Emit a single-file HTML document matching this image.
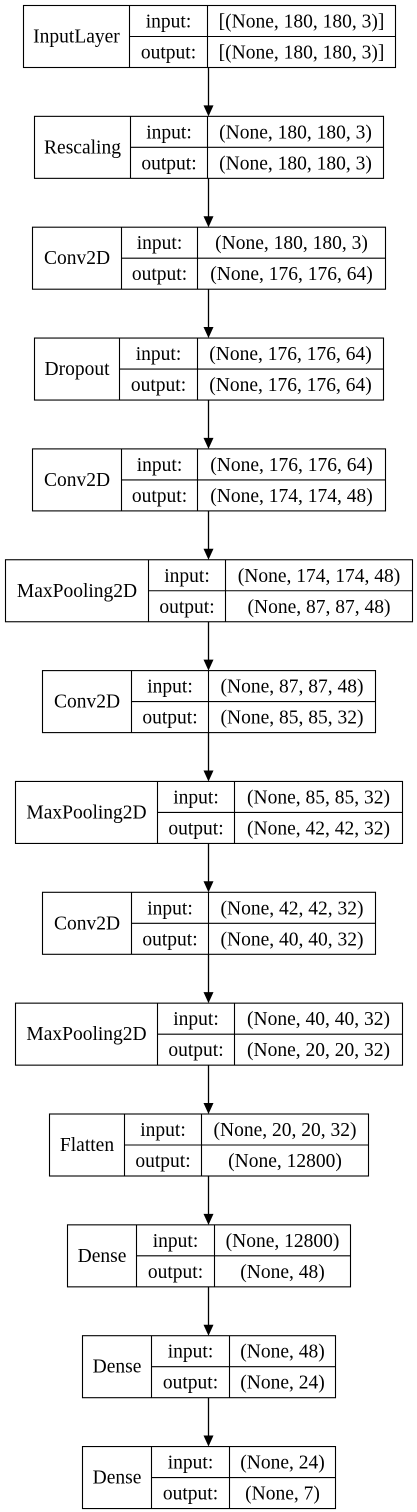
<!DOCTYPE html>
<html><head><meta charset="utf-8">
<style>
html,body{margin:0;padding:0;background:#fff;}
svg{display:block;}
text{font-family:"Liberation Serif",serif;font-size:19.5px;fill:#000;}
</style></head>
<body>
<svg id="g" width="417" height="1512" viewBox="0 0 417 1512"></svg>
<script>
const layerNames=["InputLayer","Rescaling","Conv2D","Dropout","Conv2D","MaxPooling2D","Conv2D","MaxPooling2D","Conv2D","MaxPooling2D","Flatten","Dense","Dense","Dense"];
const inputShapes=["[(None, 180, 180, 3)]","(None, 180, 180, 3)","(None, 180, 180, 3)","(None, 176, 176, 64)","(None, 176, 176, 64)","(None, 174, 174, 48)","(None, 87, 87, 48)","(None, 85, 85, 32)","(None, 42, 42, 32)","(None, 40, 40, 32)","(None, 20, 20, 32)","(None, 12800)","(None, 48)","(None, 24)"];
const outputShapes=["[(None, 180, 180, 3)]","(None, 180, 180, 3)","(None, 176, 176, 64)","(None, 176, 176, 64)","(None, 174, 174, 48)","(None, 87, 87, 48)","(None, 85, 85, 32)","(None, 42, 42, 32)","(None, 40, 40, 32)","(None, 20, 20, 32)","(None, 12800)","(None, 48)","(None, 24)","(None, 7)"];
// geometry (layout, not data)
const L=[[23,129,207,395],[34,130,207,383],[32,121,197,385],[34,119,197,383],[32,121,197,385],[5,148,225,412],[42,131,208,375],[15,157,234,402],[42,131,208,375],[15,157,234,402],[49,124,201,368],[67,136,214,350],[82,151,229,335],[82,151,229,335]];
const svg=document.getElementById('g');
const NS='http://www.w3.org/2000/svg';
function mk(tag,attrs){const e=document.createElementNS(NS,tag);for(const k in attrs)e.setAttribute(k,attrs[k]);svg.appendChild(e);return e;}
function txt(x,y,s){const t=mk('text',{x:x,y:y,'text-anchor':'middle'});t.textContent=s;return t;}
const H=62,STEP=110.85,CX=208.5;
layerNames.forEach((n,i)=>{
  const top=5.5+i*STEP, g=L[i];
  const r=mk('rect',{x:g[0]+0.5,y:top,width:g[3]-g[0],height:H,fill:'none',stroke:'#000','stroke-width':1.1});
  
  
  mk('line',{x1:g[1]+0.5,y1:top,x2:g[1]+0.5,y2:top+H,stroke:'#000','stroke-width':1.1});
  mk('line',{x1:g[2]+0.5,y1:top,x2:g[2]+0.5,y2:top+H,stroke:'#000','stroke-width':1.1});
  mk('line',{x1:g[1]+0.5,y1:top+H/2,x2:g[3]+0.5,y2:top+H/2,stroke:'#000','stroke-width':1.1});
  const t1=txt((g[0]+g[1])/2+0.5,top+H/2+6,n);
  
  
  const t2=txt((g[1]+g[2])/2+0.5,top+22,'input:');
  
  
  const t3=txt((g[1]+g[2])/2+0.5,top+53,'output:');
  
  
  const t4=txt((g[2]+g[3])/2+0.5,top+22,inputShapes[i]);
  
  
  const t5=txt((g[2]+g[3])/2+0.5,top+53,outputShapes[i]);
  
  
  if(i<layerNames.length-1){
    const nt=5.5+(i+1)*STEP;
    const ln=mk('line',{x1:CX,y1:top+H,x2:CX,y2:nt-10,stroke:'#000','stroke-width':1.3});
    
    
    const p=mk('polygon',{points:(CX-5)+','+(nt-11)+' '+(CX+5)+','+(nt-11)+' '+CX+','+nt,fill:'#000'});
    
    
  }
});
</script>
</body></html>
